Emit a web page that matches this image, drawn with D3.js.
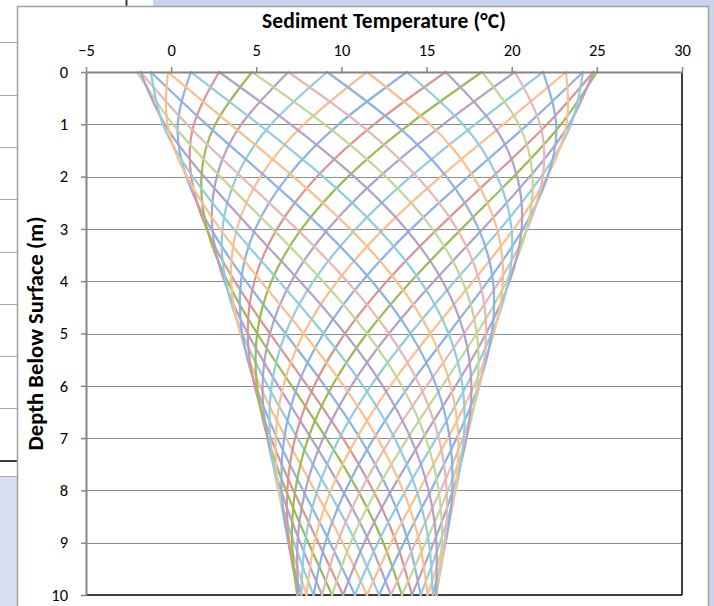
<!DOCTYPE html>
<html>
<head>
<meta charset="utf-8">
<script src="https://cdn.jsdelivr.net/npm/d3@7"></script>
<style>
  html, body { margin: 0; padding: 0; background: #ffffff; }
  svg { display: block; }
</style>
</head>
<body>
<svg id="chart" width="714" height="606"></svg>
<script>
// Depths (m) at which each temperature profile is sampled
const depths = [0, 1, 2, 3, 4, 5, 6, 7, 8, 9, 10];

// Axis ticks
const xTicks = [-5, 0, 5, 10, 15, 20, 25, 30];
const yTicks = [0, 1, 2, 3, 4, 5, 6, 7, 8, 9, 10];

// Sediment temperature profiles (°C), one row per date through the year,
// each row listing the temperature at the depths above.
const profiles = [
  [11.50, 7.80, 5.25, 3.86, 3.52, 4.06, 5.21, 6.75, 8.44, 10.07, 11.50],
  [13.84, 9.83, 6.84, 4.94, 4.10, 4.17, 4.96, 6.23, 7.75, 9.33, 10.79],
  [16.12, 11.92, 8.57, 6.22, 4.89, 4.50, 4.90, 5.86, 7.18, 8.65, 10.10],
  [18.25, 13.99, 10.39, 7.66, 5.89, 5.05, 5.04, 5.67, 6.74, 8.06, 9.45],
  [20.18, 15.99, 12.24, 9.22, 7.06, 5.80, 5.37, 5.65, 6.45, 7.58, 8.86],
  [21.84, 17.85, 14.07, 10.84, 8.36, 6.71, 5.90, 5.81, 6.30, 7.21, 8.36],
  [23.19, 19.52, 15.83, 12.49, 9.76, 7.78, 6.59, 6.14, 6.32, 6.98, 7.95],
  [24.19, 20.94, 17.45, 14.10, 11.21, 8.95, 7.43, 6.64, 6.49, 6.88, 7.64],
  [24.80, 22.08, 18.89, 15.64, 12.67, 10.21, 8.40, 7.28, 6.82, 6.92, 7.46],
  [25.00, 22.90, 20.11, 17.05, 14.09, 11.50, 9.46, 8.05, 7.29, 7.10, 7.40],
  [24.80, 23.37, 21.06, 18.30, 15.44, 12.79, 10.58, 8.93, 7.88, 7.42, 7.46],
  [24.19, 23.48, 21.73, 19.33, 16.66, 14.05, 11.73, 9.88, 8.59, 7.86, 7.64],
  [23.19, 23.22, 22.08, 20.13, 17.73, 15.22, 12.87, 10.89, 9.38, 8.41, 7.95],
  [21.84, 22.61, 22.11, 20.67, 18.61, 16.29, 13.98, 11.91, 10.24, 9.05, 8.36],
  [20.18, 21.66, 21.82, 20.92, 19.28, 17.20, 15.00, 12.92, 11.14, 9.77, 8.86],
  [18.25, 20.41, 21.22, 20.89, 19.70, 17.95, 15.92, 13.89, 12.05, 10.54, 9.45],
  [16.12, 18.88, 20.32, 20.58, 19.88, 18.50, 16.71, 14.78, 12.94, 11.34, 10.10],
  [13.84, 17.13, 19.15, 19.99, 19.80, 18.83, 17.34, 15.58, 13.78, 12.14, 10.79],
  [11.50, 15.20, 17.75, 19.14, 19.48, 18.95, 17.79, 16.25, 14.56, 12.93, 11.50],
  [9.16, 13.17, 16.16, 18.06, 18.90, 18.83, 18.05, 16.77, 15.25, 13.67, 12.21],
  [6.88, 11.08, 14.43, 16.78, 18.11, 18.50, 18.11, 17.14, 15.82, 14.35, 12.90],
  [4.75, 9.01, 12.61, 15.34, 17.11, 17.95, 17.97, 17.34, 16.26, 14.94, 13.55],
  [2.82, 7.01, 10.76, 13.79, 15.94, 17.20, 17.63, 17.35, 16.55, 15.42, 14.14],
  [1.16, 5.15, 8.93, 12.16, 14.64, 16.29, 17.11, 17.19, 16.70, 15.79, 14.65],
  [-0.19, 3.48, 7.17, 10.51, 13.24, 15.22, 16.41, 16.86, 16.68, 16.02, 15.06],
  [-1.19, 2.06, 5.55, 8.90, 11.79, 14.05, 15.57, 16.36, 16.51, 16.12, 15.36],
  [-1.80, 0.92, 4.11, 7.36, 10.33, 12.79, 14.60, 15.72, 16.18, 16.08, 15.54],
  [-2.00, 0.10, 2.89, 5.95, 8.91, 11.50, 13.54, 14.95, 15.71, 15.90, 15.60],
  [-1.80, -0.37, 1.94, 4.70, 7.56, 10.21, 12.42, 14.07, 15.12, 15.58, 15.54],
  [-1.19, -0.48, 1.27, 3.67, 6.34, 8.95, 11.27, 13.12, 14.41, 15.14, 15.36],
  [-0.19, -0.22, 0.92, 2.87, 5.27, 7.78, 10.13, 12.11, 13.62, 14.59, 15.06],
  [1.16, 0.39, 0.89, 2.34, 4.39, 6.71, 9.02, 11.09, 12.76, 13.95, 14.65],
  [2.82, 1.34, 1.18, 2.08, 3.73, 5.80, 8.00, 10.08, 11.86, 13.23, 14.14],
  [4.75, 2.59, 1.78, 2.11, 3.30, 5.05, 7.08, 9.11, 10.96, 12.46, 13.55],
  [6.88, 4.12, 2.68, 2.42, 3.12, 4.50, 6.29, 8.22, 10.06, 11.66, 12.90],
  [9.16, 5.87, 3.85, 3.01, 3.20, 4.17, 5.67, 7.42, 9.22, 10.86, 12.21]
];

// Series colours (cycled), with softer tints for the later half of the year
const palette      = ["#8DB3E2", "#D99694", "#9BBB59", "#B3A2C7", "#93CDDD", "#FAC090"];
const paletteLight = ["#8DB3E2", "#E6B9B8", "#C3D69B", "#B3A2C7", "#93CDDD", "#FAC090"];

const svg = d3.select("#chart");
const W = 714, H = 606;

// ---- worksheet showing around the chart object ----
const sheet = svg.append("g");
sheet.append("rect").attr("x", 153).attr("y", 0).attr("width", W - 153).attr("height", 8).attr("fill", "#C6D4EE");
sheet.append("rect").attr("x", 709).attr("y", 0).attr("width", 5).attr("height", H).attr("fill", "#C6D4EE");
sheet.append("line").attr("x1", 126.5).attr("x2", 126.5).attr("y1", 0).attr("y2", 8)
  .attr("stroke", "#3a3a3a").attr("stroke-width", 2);
[42, 95, 147, 199, 252, 304, 356, 408].forEach(yy => {
  sheet.append("line").attr("x1", 0).attr("x2", 18).attr("y1", yy + 0.5).attr("y2", yy + 0.5)
    .attr("stroke", "#A6A6A6").attr("stroke-width", 1);
});
sheet.append("line").attr("x1", 0).attr("x2", 18).attr("y1", 461).attr("y2", 461)
  .attr("stroke", "#3a3a3a").attr("stroke-width", 2);
sheet.append("rect").attr("x", 0).attr("y", 476).attr("width", 18).attr("height", H - 476).attr("fill", "#D5DFF1");
sheet.append("line").attr("x1", 0).attr("x2", 18).attr("y1", 476.5).attr("y2", 476.5)
  .attr("stroke", "#A6A6A6").attr("stroke-width", 1);

// ---- chart area ----
svg.append("rect").attr("x", 17.5).attr("y", 6.5).attr("width", 691).attr("height", H + 10)
  .attr("fill", "#ffffff").attr("stroke", "#A0A0A0").attr("stroke-width", 1.5);

const x = d3.scaleLinear().domain([-5, 30]).range([86, 682]);
const y = d3.scaleLinear().domain([0, 10]).range([72, 595]);

// horizontal gridlines
svg.append("g").selectAll("line").data(yTicks.slice(1, -1)).join("line")
  .attr("x1", x(-5)).attr("x2", x(30))
  .attr("y1", d => Math.round(y(d)) + 0.5).attr("y2", d => Math.round(y(d)) + 0.5)
  .attr("stroke", "#8C8C8C").attr("stroke-width", 1);

// plot-area frame on the right and bottom
svg.append("line").attr("x1", x(30)).attr("x2", x(30)).attr("y1", y(0)).attr("y2", y(10))
  .attr("stroke", "#000000").attr("stroke-width", 1.5);
svg.append("line").attr("x1", x(-5)).attr("x2", x(30)).attr("y1", y(10)).attr("y2", y(10))
  .attr("stroke", "#000000").attr("stroke-width", 1.5);

// ---- temperature profiles ----
const line = d3.line()
  .x(d => x(d[1]))
  .y(d => y(d[0]))
  .curve(d3.curveNatural);

const n = profiles.length;
const seriesOrder = d3.range(n).map(i => (i + n - 5) % n);
svg.append("g").attr("fill", "none")
  .selectAll("path").data(seriesOrder).join("path")
  .attr("d", k => line(depths.map((z, j) => [z, profiles[k][j]])))
  .attr("stroke", (k, i) => (Math.floor(i / 6) >= 3 ? paletteLight : palette)[i % 6])
  .attr("stroke-width", 2.25)
  .attr("stroke-linejoin", "round")
  .attr("stroke-linecap", "round");

// ---- axes ----
const font = "Carlito, Calibri, Lato, 'Open Sans', sans-serif";

const gx = svg.append("g").attr("transform", `translate(0,${y(0)})`)
  .call(d3.axisTop(x).tickValues(xTicks).tickSize(5).tickPadding(11).tickSizeOuter(0));
const gy = svg.append("g").attr("transform", `translate(${x(-5)},0)`)
  .call(d3.axisLeft(y).tickValues(yTicks).tickSize(5).tickPadding(13).tickSizeOuter(0));

[gx, gy].forEach(g => {
  g.attr("font-size", null).attr("font-family", null);
  g.select(".domain").attr("stroke", "#868686").attr("stroke-width", 2);
  g.selectAll(".tick line").attr("stroke", "#868686").attr("stroke-width", 1.5);
  g.selectAll(".tick text").attr("fill", "#000000")
    .style("font-family", font).style("font-size", "16.5px");
});

// ---- titles ----
svg.append("text")
  .attr("x", (x(-5) + x(30)) / 2).attr("y", 28)
  .attr("text-anchor", "middle")
  .attr("textLength", 244).attr("lengthAdjust", "spacing")
  .style("font-family", font).style("font-size", "21.5px").style("font-weight", "bold")
  .text("Sediment Temperature (°C)");

svg.append("text")
  .attr("transform", `translate(43,${(y(0) + y(10)) / 2}) rotate(-90)`)
  .attr("text-anchor", "middle")
  .attr("textLength", 234).attr("lengthAdjust", "spacing")
  .style("font-family", font).style("font-size", "22.5px").style("font-weight", "bold")
  .text("Depth Below Surface (m)");
</script>
</body>
</html>
